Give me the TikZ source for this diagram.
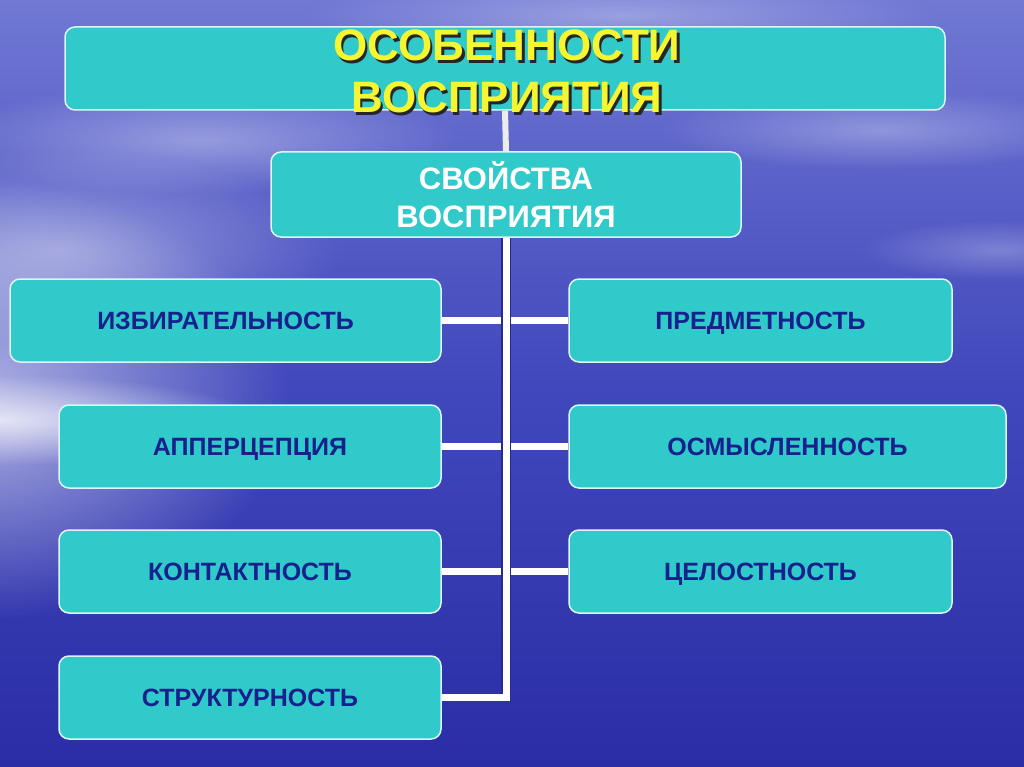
\documentclass[tikz,border=0pt]{standalone}
\usepackage{fontspec}
\setmainfont{Liberation Sans}
\usetikzlibrary{fadings}
\definecolor{tealfill}{HTML}{30CACA}
\definecolor{leaftxt}{HTML}{17208C}
\definecolor{bgtop}{HTML}{7078D4}
\definecolor{bgmid}{HTML}{4148BC}
\definecolor{bgbot}{HTML}{2A2DA6}
\definecolor{titley}{HTML}{F5F532}
\definecolor{edgecol}{HTML}{DDF5F5}
\newcommand{\shadowline}[1]{\leavevmode\rlap{\hspace{2.5pt}\raisebox{-2.5pt}{\textcolor{black!85}{#1}}}\textcolor{titley}{#1}}
\tikzfading[name=glow, inner color=transparent!0, outer color=transparent!100]
\pgfdeclarelayer{bg}
\pgfsetlayers{bg,main}
\tikzset{
 box/.style={draw=edgecol, line width=1.5pt, fill=tealfill, rounded corners=10pt, inner sep=0pt, minimum height=83pt},
 leaf/.style={box, font=\bfseries\fontsize{25}{30}\selectfont, text=leaftxt, text height=18pt, text depth=0pt},
 conn/.style={white, line width=7pt},
 connedge/.style={bgbot!90!black, line width=10pt},
 cloud/.style={white, path fading=glow},
}
\begin{document}
\begin{tikzpicture}[x=1pt,y=-1pt]
\useasboundingbox (0,0) rectangle (1024,767);
% nodes
\node[box, minimum width=880pt] (top) at (505,68.5) {};
\node[font=\bfseries\fontsize{44}{52}\selectfont, align=center] (title) at (507,73) {\shadowline{ОСОБЕННОСТИ}\\\shadowline{ВОСПРИЯТИЯ}};
\node[box, minimum width=470pt, minimum height=85pt, font=\bfseries\fontsize{31}{38}\selectfont, text=white, align=center] (sv) at (506,194.5) {СВОЙСТВА\\ВОСПРИЯТИЯ};
\node[leaf, minimum width=431pt] (l1) at (225.5,320.5) {ИЗБИРАТЕЛЬНОСТЬ};
\node[leaf, minimum width=382pt] (l2) at (250,446.5) {АППЕРЦЕПЦИЯ};
\node[leaf, minimum width=382pt] (l3) at (250,571.5) {КОНТАКТНОСТЬ};
\node[leaf, minimum width=382pt] (l4) at (250,697.5) {СТРУКТУРНОСТЬ};
\node[leaf, minimum width=383pt] (r1) at (760.5,320.5) {ПРЕДМЕТНОСТЬ};
\node[leaf, minimum width=437pt] (r2) at (787.5,446.5) {ОСМЫСЛЕННОСТЬ};
\node[leaf, minimum width=383pt] (r3) at (760.5,571.5) {ЦЕЛОСТНОСТЬ};
\coordinate (j4) at (l4.east -| sv.south);
\begin{pgfonlayer}{bg}
\shade[top color=bgtop, bottom color=bgbot, middle color=bgmid] (0,0) rectangle (1024,767);
\fill[cloud, opacity=0.6] (-30,400) ellipse [x radius=320pt, y radius=220pt];
\fill[cloud, opacity=0.7] (0,420) ellipse [x radius=260pt, y radius=45pt];
\fill[cloud, opacity=0.4] (60,250) ellipse [x radius=280pt, y radius=100pt];
\fill[cloud, opacity=0.35] (200,140) ellipse [x radius=260pt, y radius=55pt];
\fill[cloud, opacity=0.3] (880,130) ellipse [x radius=220pt, y radius=40pt];
\fill[cloud, opacity=0.3] (620,15) ellipse [x radius=320pt, y radius=40pt];
\fill[cloud, opacity=0.25] (1000,250) ellipse [x radius=140pt, y radius=30pt];
\draw[white!85!gray, line width=6pt] (top.south) -- (sv.north);
\draw[conn] (l1.east) -- (r1.west);
\draw[conn] (l2.east) -- (r2.west);
\draw[conn] (l3.east) -- (r3.west);
\draw[conn] (l4.east) -- (j4);
\draw[connedge] (sv.south) -- ([yshift=2pt]j4);
\draw[conn, line cap=rect] (sv.south) -- (j4);
\draw[conn] ([xshift=-2pt]l4.east) -- ([xshift=1pt]j4);
\end{pgfonlayer}
\end{tikzpicture}
\end{document}
